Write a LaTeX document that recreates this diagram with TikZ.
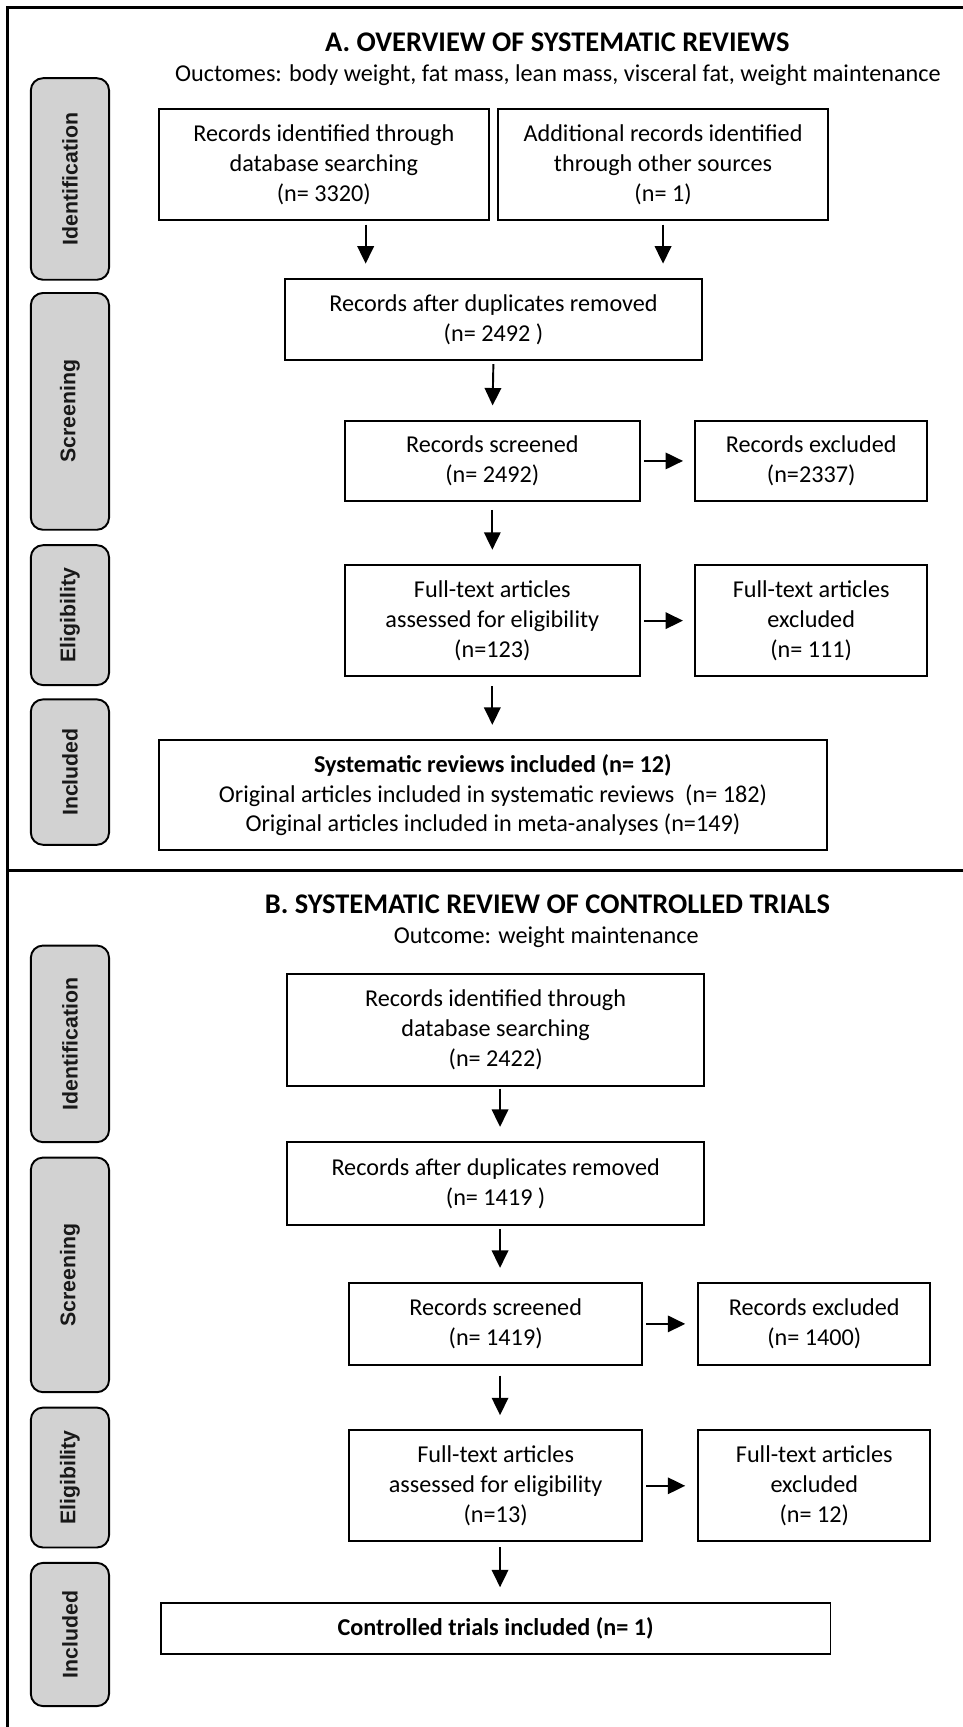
\documentclass[tikz,border=0pt]{standalone}
\usepackage{fontspec}
\setmainfont{Carlito}
\newfontfamily\stagefont{Liberation Sans}
\usepackage{tikz}
\usetikzlibrary{shapes, arrows, calc, positioning}
\usetikzlibrary{arrows.meta}

\definecolor{stagegray}{RGB}{210,210,210}
\newcommand{\boxfont}{\fontsize{12.5}{15.4}\selectfont}
\newcommand{\headfont}{\fontsize{14.7}{17}\selectfont\bfseries}

\begin{document}
\begin{tikzpicture}[
      x=0.02cm, y=-0.02cm,  % one unit = one pixel of the layout, y runs down
      every node/.style={font=\boxfont},
      recbox/.style 2 args={draw, line width=1pt, rectangle, align=center, inner sep=0pt,
        fill=white, minimum width=#1*0.02cm, minimum height=#2*0.02cm},
      stage/.style={draw, line width=1pt, fill=stagegray, rounded corners=0.22cm,
        rotate=90, inner sep=0pt, minimum height=1.42cm, minimum width=#1*0.02cm,
        font=\stagefont\bfseries\fontsize{11}{13}\selectfont, text=black!90},
      arr/.style={-{Triangle[length=9pt, width=8.5pt]}, line width=1pt,
        shorten <=0.06cm, shorten >=0.26cm}
    ]
    \useasboundingbox (0,0) rectangle (874,1568);
    % outer frame, its right and bottom side lie outside the page
    \draw[line width=1.3pt] (874,6.7) -- (6.7,6.7) -- (6.7,1568);
    \draw[line width=1.3pt] (6.7,790.5) -- (874,790.5);

    % Panel A: overview of systematic reviews
    \node[font=\headfont] (titleA) at (506,38) {A. OVERVIEW OF SYSTEMATIC REVIEWS};
    \node (outA) at (506.5,68) {Ouctomes: body weight, fat mass, lean mass, visceral fat, weight maintenance};

    \node[stage=183] (identA) at (63.5,162.5) {Identification};
    \node[stage=215] (screenA) at (63.5,373.5) {Screening};
    \node[stage=127] (eligA) at (63.5,558.5) {Eligibility};
    \node[stage=132] (inclA) at (63.5,701) {Included};

    \node[recbox={300}{101}] (dbA) at (294,149.5) {Records identified through\\database searching\\(n= 3320)};
    \node[recbox={300}{101}] (otherA) at (602,149.5) {Additional records identified\\through other sources\\(n= 1)};
    \node[recbox={378}{73.5}] (dupA) at (448,290) {Records after duplicates removed\\(n= 2492 )};
    \node[recbox={268}{73}] (scrA) at (447,418.5) {Records screened\\(n= 2492)};
    \node[recbox={211}{73}] (excA) at (736.5,418.5) {Records excluded\\(n=2337)};
    \node[recbox={268}{101}] (fullA) at (447,563.5) {Full-text articles\\assessed for eligibility\\(n=123)};
    \node[recbox={211}{101}] (fexA) at (736.5,563.5) {Full-text articles\\excluded\\(n= 111)};
    \node[recbox={607}{100}] (incA) at (447.5,722) {\textbf{Systematic reviews included (n= 12)}\\Original articles included in systematic reviews\ \ (n= 182)\\Original articles included in meta-analyses (n=149)};

    \coordinate (dbAout) at ([xshift=0.76cm]dbA.south);
    \draw[arr] (dbAout) -- (dbAout |- dupA.north);
    \draw[arr] (otherA.south) -- (otherA.south |- dupA.north);
    \draw[arr] (dupA.south) -- (scrA.north);
    \draw[arr, shorten >=0.2cm] (scrA.east) -- (excA.west);
    \draw[arr, shorten <=0.14cm] (scrA.south) -- (fullA.north);
    \draw[arr, shorten >=0.2cm] (fullA.east) -- (fexA.west);
    \draw[arr, shorten <=0.16cm] (fullA.south) -- (fullA.south |- incA.north);

    % Panel B: systematic review of controlled trials
    \node[font=\headfont] (titleB) at (497,821) {B. SYSTEMATIC REVIEW OF CONTROLLED TRIALS};
    \node (outB) at (496,851) {Outcome: weight maintenance};

    \node[stage=178.5] (identB) at (63.5,947.75) {Identification};
    \node[stage=213] (screenB) at (63.5,1157.5) {Screening};
    \node[stage=127] (eligB) at (63.5,1341.5) {Eligibility};
    \node[stage=130] (inclB) at (63.5,1484) {Included};

    \node[recbox={378.5}{102}] (dbB) at (450,935) {Records identified through\\database searching\\(n= 2422)};
    \node[recbox={378.5}{75}] (dupB) at (450,1074.5) {Records after duplicates removed\\(n= 1419 )};
    \node[recbox={266}{74}] (scrB) at (450,1202) {Records screened\\(n= 1419)};
    \node[recbox={210.6}{74}] (excB) at (739.3,1202) {Records excluded\\(n= 1400)};
    \node[recbox={266}{100.5}] (fullB) at (450,1349) {Full-text articles\\assessed for eligibility\\(n=13)};
    \node[recbox={210.6}{100.5}] (fexB) at (739.3,1349) {Full-text articles\\excluded\\(n= 12)};
    \node[recbox={608}{47}] (incB) at (450,1478.5) {\textbf{Controlled trials included (n= 1)}};

    \coordinate (dbBout) at ([xshift=0.08cm]dbB.south);
    \draw[arr, shorten <=0.03cm] (dbBout) -- (dbBout |- dupB.north);
    \coordinate (dupBout) at ([xshift=0.08cm]dupB.south);
    \draw[arr] (dupBout) -- (dupBout |- scrB.north);
    \draw[arr, shorten >=0.22cm] (scrB.east) -- (excB.west);
    \coordinate (scrBout) at ([xshift=0.08cm]scrB.south);
    \draw[arr, shorten <=0.18cm] (scrBout) -- (scrBout |- fullB.north);
    \draw[arr, shorten >=0.22cm] (fullB.east) -- (fexB.west);
    \coordinate (fullBout) at ([xshift=0.08cm]fullB.south);
    \draw[arr, shorten <=0.09cm] (fullBout) -- (fullBout |- incB.north);
\end{tikzpicture}
\end{document}
